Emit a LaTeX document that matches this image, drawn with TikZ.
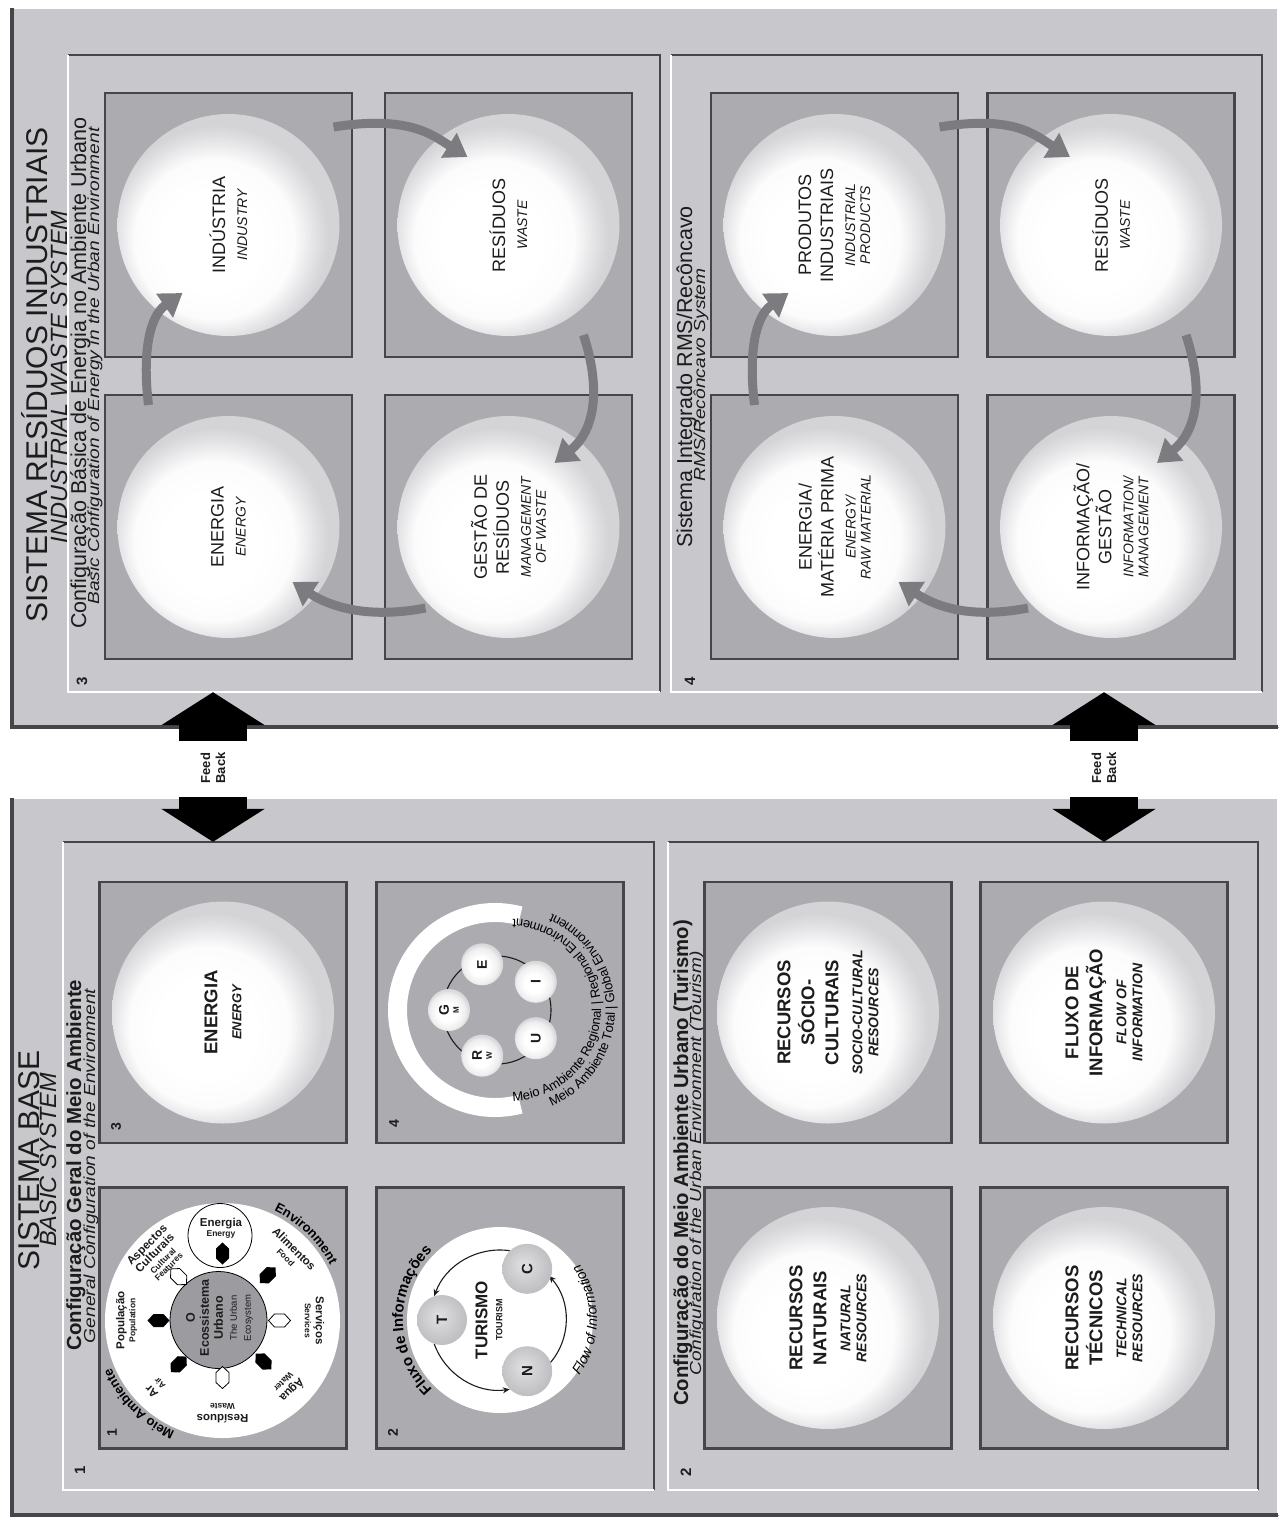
\documentclass[tikz,border=0pt]{standalone}
\usepackage{fontspec}
\setmainfont{Liberation Sans}
\usepackage{graphicx}
\usetikzlibrary{arrows.meta,calc,decorations.text,shapes.geometric}

\definecolor{panelbg}{HTML}{C8C8CC}
\definecolor{boxbg}{HTML}{ABABB0}
\definecolor{darkedge}{HTML}{46464A}
\definecolor{arrowgray}{HTML}{7C7C80}
\definecolor{glowedge}{HTML}{DEDEE1}
\definecolor{ecogray}{HTML}{9C9CA0}
\definecolor{txt}{HTML}{1C1C1C}

\pgfdeclareradialshading{glow}{\pgfpoint{-5bp}{-5bp}}{%
  color(0bp)=(white); color(11bp)=(white); color(18bp)=(white!90!glowedge);
  color(23bp)=(glowedge); color(25bp)=(glowedge!80!boxbg); color(50bp)=(glowedge!80!boxbg)}
\pgfdeclareradialshading{smallglow}{\pgfpoint{-3bp}{-3bp}}{%
  color(0bp)=(white); color(11bp)=(white); color(21bp)=(white!80!boxbg);
  color(25bp)=(white!55!boxbg); color(50bp)=(white!55!boxbg)}
\pgfdeclareradialshading{greyglow}{\pgfpoint{-4bp}{4bp}}{%
  color(0bp)=(white!65!boxbg); color(12bp)=(white!45!boxbg);
  color(25bp)=(white!25!boxbg); color(50bp)=(white!25!boxbg)}

\newcommand\fsz[2]{\fontsize{#1pt}{#2pt}\selectfont}
\newcommand\enA[1]{{\fsz{14}{15}\itshape #1}}
\newcommand\enB[1]{{\fsz{14}{15}\bfseries\itshape #1}}
\newcommand\raisedrim[1]{%
  \draw[white, line width=3pt] (#1.north west) -- (#1.north east) -- (#1.south east);
  \draw[darkedge, line width=4pt] (#1.north west) -- (#1.south west) -- (#1.south east);}
\newcommand\insetrim[1]{%
  \draw[darkedge, line width=2.5pt] (#1.north west) -- (#1.north east) -- (#1.south east);
  \draw[white, line width=2.5pt] (#1.north west) -- (#1.south west) -- (#1.south east);}

\tikzset{
  outerpanel/.style={rectangle, fill=panelbg, draw=gray!80, line width=0.8pt, inner sep=0pt},
  subpanel/.style={rectangle, inner sep=0pt},
  cellbox/.style={rectangle, fill=boxbg, draw=darkedge, line width=2.5pt, inner sep=0pt, minimum width=247pt},
  glowball/.style={circle, shade, shading=glow, minimum size=222pt, inner sep=0pt},
  vtext/.style={rotate=90, align=center, text=txt, inner sep=0pt},
  labA/.style={vtext, font=\fsz{18}{22}},
  labB/.style={vtext, font=\bfseries\fsz{18.5}{24}},
  headtxt/.style={rotate=90, anchor=base, text=txt, inner sep=0pt},
  numtxt/.style={vtext, font=\bfseries\fsz{15}{15}},
  flowarrow/.style={draw=arrowgray, line width=9pt, -{Triangle[length=22pt,width=28pt]}},
  fbarrow/.style={draw=black, line width=68pt, -{Triangle[length=33pt,width=102pt]}},
  ringlab/.style={align=center, text=txt, inner sep=0pt, font=\bfseries\fsz{11.5}{11}},
  minib/.style={circle, shade, shading=smallglow, minimum size=42pt, inner sep=0pt},
  minig/.style={circle, shade, shading=greyglow, minimum size=50pt, inner sep=0pt},
  thinarc/.style={draw=txt, line width=1.1pt},
  hexarrow/.pic={\path[pic actions] (-11,0) -- (-5,-6.5) -- (5,-6.5) -- (11,0) -- (5,6.5) -- (-5,6.5) -- cycle;},
}

\begin{document}
\begin{tikzpicture}[x=1pt,y=-1pt]
\useasboundingbox (0,0) rectangle (1286,1520);
\fill[white] (0,0) rectangle (1286,1520);

% ---------- panels ----------
\node[outerpanel, minimum width=1266pt, minimum height=719pt] (panA) at (645,367.5) {};
\node[outerpanel, minimum width=1266pt, minimum height=717pt] (panB) at (645,1156.5) {};
\raisedrim{panA}
\raisedrim{panB}
\node[subpanel, minimum width=592pt, minimum height=637pt] (sub3) at (364,373.5) {};
\node[subpanel, minimum width=591pt, minimum height=637pt] (sub4) at (966.5,373.5) {};
\node[subpanel, minimum width=591pt, minimum height=648pt] (sub1) at (358.5,1166) {};
\node[subpanel, minimum width=590pt, minimum height=648pt] (sub2) at (963,1166) {};
\insetrim{sub3}\insetrim{sub4}\insetrim{sub1}\insetrim{sub2}

% ---------- headers and captions ----------
\node[headtxt, font=\fsz{30}{30}] (hA) at (47,375) {SISTEMA RESÍDUOS INDUSTRIAIS};
\node[headtxt, font=\itshape\fsz{23.5}{24}] (hAe) at (67,377) {INDUSTRIAL WASTE SYSTEM};
\node[headtxt, font=\fsz{30}{30}] (hB) at (39,1160) {SISTEMA BASE};
\node[headtxt, font=\itshape\fsz{23.5}{24}] (hBe) at (56,1160) {BASIC SYSTEM};

\node[headtxt, font=\fsz{21.5}{22}] (c3a) at (86,373) {Configuração Básica de Energia no Ambiente Urbano};
\node[headtxt] (c3b) at (99,366) {\scalebox{1.2}[1]{\itshape\fsz{16}{16}Basic Configuration of Energy in the Urban Environment}};
\node[headtxt, font=\fsz{21.5}{22}] (c4a) at (692,377) {Sistema Integrado RMS/Recôncavo};
\node[headtxt] (c4b) at (705,375) {\scalebox{1.2}[1]{\itshape\fsz{16}{16}RMS/Recôncavo System}};
\node[headtxt, font=\bfseries\fsz{20.4}{21}] (c1a) at (81,1165) {Configuração Geral do Meio Ambiente};
\node[headtxt] (c1b) at (95,1166) {\scalebox{1.2}[1]{\itshape\fsz{16}{16}General Configuration of the Environment}};
\node[headtxt, font=\bfseries\fsz{20.3}{21}] (c2a) at (688,1163) {Configuração do Meio Ambiente Urbano (Turismo)};
\node[headtxt] (c2b) at (701,1163) {\scalebox{1.2}[1]{\itshape\fsz{16}{16}Configuration of the Urban Environment (Tourism)}};

\node[numtxt] (n3) at (82,681) {3};
\node[numtxt] (n4) at (690,681) {4};
\node[numtxt] (n1) at (80,1470) {1};
\node[numtxt] (n2) at (686,1472) {2};

% ---------- boxes with glowing spheres ----------
\foreach \nm/\cx/\cy in {bInd/228.5/225, bResA/508.5/225, bEnA/228.5/527, bGes/508.5/527,
                         bProd/834.5/225, bResB/1111/225, bEnM/834.5/527, bInfo/1111/527}{
  \node[cellbox, minimum height=264pt] (\nm) at (\cx,\cy) {};
  \node[glowball] (g\nm) at (\cx,\cy) {};
}
\foreach \nm/\cx/\cy in {bEnB/223/1012.5, bSoc/828/1012.5, bFlux/1104/1012.5, bNat/828/1318, bTec/1104/1318}{
  \node[cellbox, minimum height=261pt] (\nm) at (\cx,\cy) {};
  \node[glowball] (g\nm) at (\cx,\cy) {};
}
\node[cellbox, minimum height=261pt] (bOne) at (223,1318) {};
\node[cellbox, minimum height=261pt] (bTwo) at (500,1318) {};
\node[cellbox, minimum height=261pt] (bFour) at (500,1012.5) {};

% ---------- cycle arrows (panel 3 and 4) ----------
\foreach \pE/\pI/\pR/\pG in {gbEnA/gbInd/gbResA/gbGes, gbEnM/gbProd/gbResB/gbInfo}{
  \draw[flowarrow] ($(\pE)+(-80,-122)$) .. controls ($(\pE)+(-86,-172)$) and ($(\pI)+(-80,92)$) .. ($(\pI)+(-46,68)$);
  \draw[flowarrow] ($(\pI)+(105,-98)$) .. controls ($(\pI)+(180,-110)$) and ($(\pR)+(-76,-90)$) .. ($(\pR)+(-41,-68)$);
  \draw[flowarrow] ($(\pR)+(75,110)$) .. controls ($(\pR)+(93,165)$) and ($(\pG)+(86,-96)$) .. ($(\pG)+(46,-64)$);
  \draw[flowarrow] ($(\pG)+(-83,81)$) .. controls ($(\pG)+(-140,92)$) and ($(\pE)+(102,80)$) .. ($(\pE)+(64,55)$);
}

% ---------- texts in panel A boxes ----------
\node[labA] (tInd) at (gbInd) {INDÚSTRIA\\\enA{INDUSTRY}};
\node[labA] (tResA) at (gbResA) {RESÍDUOS\\\enA{WASTE}};
\node[labA] (tEnA) at (gbEnA) {ENERGIA\\\enA{ENERGY}};
\node[labA] (tGes) at (gbGes) {GESTÃO DE\\RESÍDUOS\\\enA{MANAGEMENT}\\[-7pt]\enA{OF WASTE}};
\node[labA] (tProd) at (gbProd) {PRODUTOS\\INDUSTRIAIS\\\enA{INDUSTRIAL}\\[-7pt]\enA{PRODUCTS}};
\node[labA] (tResB) at (gbResB) {RESÍDUOS\\\enA{WASTE}};
\node[labA] (tEnM) at (gbEnM) {ENERGIA/\\MATÉRIA PRIMA\\\enA{ENERGY/}\\[-7pt]\enA{RAW MATERIAL}};
\node[labA] (tInfo) at (gbInfo) {INFORMAÇÃO/\\GESTÃO\\\enA{INFORMATION/}\\[-7pt]\enA{MANAGEMENT}};

% ---------- texts in panel B boxes ----------
\node[labB] (tEnB) at (gbEnB) {ENERGIA\\{\fsz{13}{15}\itshape ENERGY}};
\node[labB] (tSoc) at (gbSoc) {RECURSOS\\SÓCIO-\\CULTURAIS\\\enB{SOCIO-CULTURAL}\\[-8pt]\enB{RESOURCES}};
\node[labB] (tFlux) at (gbFlux) {FLUXO DE\\INFORMAÇÃO\\\enB{FLOW OF}\\[-8pt]\enB{INFORMATION}};
\node[labB] (tNat) at (gbNat) {RECURSOS\\NATURAIS\\\enB{NATURAL}\\[-8pt]\enB{RESOURCES}};
\node[labB] (tTec) at (gbTec) {RECURSOS\\TÉCNICOS\\\enB{TECHNICAL}\\[-8pt]\enB{RESOURCES}};

% ---------- box 1: Meio Ambiente ----------
\node[circle, fill=white, minimum size=235pt, inner sep=0pt] (envC) at (222.5,1320.5) {};
\node[circle, fill=ecogray, draw=black, line width=0.8pt, minimum size=97pt, inner sep=0pt] (ecoC) at (218.5,1320) {};
\node[circle, fill=white, draw=black, line width=0.8pt, minimum size=64pt, inner sep=0pt] (enC) at (220,1235.5) {};
\node[ringlab] (enT) at (221,1228) {Energia\\[-1pt]{\fsz{8.5}{9}Energy}};
\node[vtext, font=\bfseries\fsz{12.5}{14}] (ecoT) at (219.5,1318) {O\\Ecossistema\\Urbano\\{\mdseries\fsz{9.5}{14}The Urban}\\{\mdseries\fsz{9.5}{14}Ecosystem}};
\node[ringlab, rotate=90] (popT) at ($(envC)+(180:96)$) {População\\{\fsz{8.5}{9}Population}};
\node[ringlab, rotate=45] (aspT) at ($(envC)+(-135:92)$) {Aspectos\\Culturais\\{\fsz{8.5}{9}Cultural}\\[-3pt]{\fsz{8.5}{9}Features}};
\node[ringlab, rotate=-45] (aliT) at ($(envC)+(-45:96)$) {Alimentos\\{\fsz{8.5}{9}Food}};
\node[ringlab, rotate=-90] (serT) at ($(envC)+(0:92)$) {Serviços\\{\fsz{8.5}{9}Services}};
\node[ringlab, rotate=-135] (aguT) at ($(envC)+(45:94)$) {Água\\{\fsz{8.5}{9}Water}};
\node[ringlab, rotate=180] (resT) at ($(envC)+(90:93)$) {Resíduos\\{\fsz{8.5}{9}Waste}};
\node[ringlab, rotate=135] (arT) at ($(envC)+(135:95)$) {Ar\\{\fsz{8.5}{9}Air}};
\pic[fill=black] (hx1) at ($(envC)+(180:64)$) {hexarrow};
\pic[fill=white, draw=black, line width=0.8pt, rotate=-45] (hx2) at ($(envC)+(-135:62)$) {hexarrow};
\pic[fill=black, rotate=90] (hx3) at ($(envC)+(-90:67)$) {hexarrow};
\pic[fill=black, rotate=45] (hx4) at ($(envC)+(-45:64)$) {hexarrow};
\pic[fill=white, draw=black, line width=0.8pt] (hx5) at ($(envC)+(0:57)$) {hexarrow};
\pic[fill=black, rotate=-45] (hx6) at ($(envC)+(45:58)$) {hexarrow};
\pic[fill=white, draw=black, line width=0.8pt, rotate=90] (hx7) at ($(envC)+(90:57)$) {hexarrow};
\pic[fill=black, rotate=45] (hx8) at ($(envC)+(135:62)$) {hexarrow};
\path[decorate, decoration={text along path, text align=center, text={|\bfseries\fsz{13}{13}|Meio Ambiente}}]
  ($(envC)+(98:121)$) arc[start angle=98, end angle=172, radius=121];
\path[decorate, decoration={text along path, text align=center, text={|\bfseries\fsz{13}{13}|Environment}}]
  ($(envC)+(-74:121)$) arc[start angle=-74, end angle=-18, radius=121];

% ---------- box 2: Turismo ----------
\node[circle, fill=white, minimum size=186pt, inner sep=0pt] (turC) at (500,1320) {};
\draw[thinarc, -{Stealth[length=7pt,width=6pt]}] ($(turC)+(-200:70)$) arc[start angle=-200, end angle=-278, radius=70];
\draw[thinarc, -{Stealth[length=7pt,width=6pt]}] ($(turC)+(42:66)$) arc[start angle=42, end angle=-42, radius=66];
\draw[thinarc, -{Stealth[length=7pt,width=6pt]}] ($(turC)+(-82:70)$) arc[start angle=-82, end angle=-160, radius=70];
\node[minig] (tT) at ($(turC)+(180:58)$) {};
\node[minig] (tC) at ($(turC)+(-62:58)$) {};
\node[minig] (tN) at ($(turC)+(62:58)$) {};
\node[vtext, font=\bfseries\fsz{15}{15}] (tTl) at (tT) {T};
\node[vtext, font=\bfseries\fsz{15}{15}] (tCl) at (tC) {C};
\node[vtext, font=\bfseries\fsz{15}{15}] (tNl) at (tN) {N};
\node[vtext, font=\bfseries\fsz{17}{15}] (turT) at (489,1320) {TURISMO\\{\fsz{9}{9}TOURISM}};
\path[decorate, decoration={text along path, text align=center, text={|\bfseries\fsz{15}{15}|Fluxo de Informações}}]
  ($(turC)+(-242:97)$) arc[start angle=-242, end angle=-118, radius=97];
\path[decorate, decoration={text along path, text align=center, text={|\itshape\fsz{14}{14}|Flow of Information}}]
  ($(turC)+(50:97)$) arc[start angle=50, end angle=-50, radius=97];

% ---------- box 4: regional / global ----------
\coordinate (ringO) at (495,1010);
\coordinate (pentO) at (497,1010);
\coordinate (textO) at (510,1010);
\draw[white, line width=19pt] ($(ringO)+(-75:97.5)$) arc[start angle=-75, end angle=-285, radius=97.5];
\draw[thinarc] ($(pentO)+(-158:54)$) arc[start angle=-158, end angle=-130, radius=54];
\draw[thinarc] ($(pentO)+(-86:54)$) arc[start angle=-86, end angle=-58, radius=54];
\draw[thinarc] ($(pentO)+(-14:54)$) arc[start angle=-14, end angle=14, radius=54];
\draw[thinarc] ($(pentO)+(58:54)$) arc[start angle=58, end angle=86, radius=54];
\draw[thinarc] ($(pentO)+(130:54)$) arc[start angle=130, end angle=158, radius=54];
\node[minib] (mG) at ($(pentO)+(180:48)$) {};
\node[minib] (mE) at ($(pentO)+(-108:48)$) {};
\node[minib] (mI) at ($(pentO)+(-36:48)$) {};
\node[minib] (mU) at ($(pentO)+(36:48)$) {};
\node[minib] (mR) at ($(pentO)+(108:48)$) {};
\node[vtext, font=\bfseries\fsz{14}{13}] (lG) at (mG) {G\\[-3pt]{\fsz{8}{8}M}};
\node[vtext, font=\bfseries\fsz{14}{13}] (lE) at (mE) {E};
\node[vtext, font=\bfseries\fsz{14}{13}] (lI) at (mI) {I};
\node[vtext, font=\bfseries\fsz{14}{13}] (lU) at (mU) {U};
\node[vtext, font=\bfseries\fsz{14}{13}] (lR) at (mR) {R\\[-3pt]{\fsz{8}{8}W}};
\path[decorate, decoration={text along path, text align=center, text={|\fsz{13}{13}|Meio Ambiente Regional {\textbar} Regional Environment}}]
  ($(textO)+(112:91)$) arc[start angle=112, end angle=-112, radius=91];
\path[decorate, decoration={text along path, text align=center, text={|\fsz{13}{13}|Meio Ambiente Total {\textbar} Global Environment}}]
  ($(textO)+(100:105)$) arc[start angle=100, end angle=-100, radius=105];

% ---------- numbers of the small boxes ----------
\node[vtext, font=\bfseries\fsz{14}{14}] (k1) at (112,1433) {1};
\node[vtext, font=\bfseries\fsz{14}{14}] (k2) at (393,1433) {2};
\node[vtext, font=\bfseries\fsz{14}{14}] (k3) at (116,1127) {3};
\node[vtext, font=\bfseries\fsz{14}{14}] (k4) at (394,1124) {4};

% ---------- feed back ----------
\node[vtext, font=\bfseries\fsz{13}{15}] (fbL) at (213,768) {Feed\\Back};
\node[vtext, font=\bfseries\fsz{13}{15}] (fbR) at (1104,768) {Feed\\Back};
\draw[fbarrow] ($(fbL)+(0,-27)$) -- (fbL |- sub3.south);
\draw[fbarrow] ($(fbL)+(0,29)$) -- (fbL |- sub1.north);
\draw[fbarrow] ($(fbR)+(0,-27)$) -- (fbR |- sub4.south);
\draw[fbarrow] ($(fbR)+(0,29)$) -- (fbR |- sub2.north);
\end{tikzpicture}
\end{document}
